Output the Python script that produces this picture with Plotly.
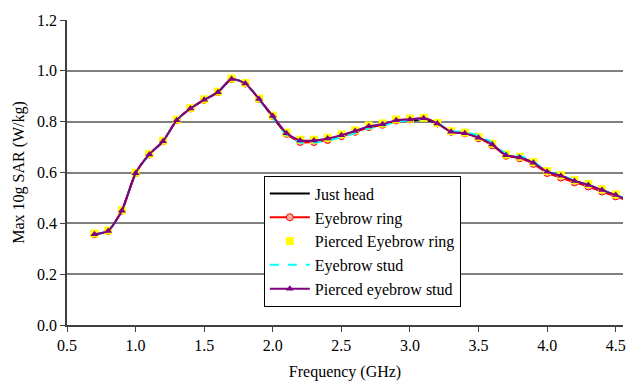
import plotly.graph_objects as go

freq = [0.7, 0.8, 0.9, 1.0, 1.1, 1.2, 1.3, 1.4, 1.5, 1.6, 1.7, 1.8, 1.9, 2.0, 2.1, 2.2, 2.3, 2.4, 2.5, 2.6,
        2.7, 2.8, 2.9, 3.0, 3.1, 3.2, 3.3, 3.4, 3.5, 3.6, 3.7, 3.8, 3.9, 4.0, 4.1, 4.2, 4.3, 4.4, 4.5, 4.6]

just_head = [0.357, 0.370, 0.450, 0.597, 0.671, 0.723, 0.806, 0.852, 0.886, 0.916, 0.968, 0.950, 0.889, 0.818, 0.752,
             0.722, 0.722, 0.730, 0.744, 0.759, 0.778, 0.787, 0.802, 0.804, 0.808, 0.793, 0.760, 0.754, 0.737, 0.710,
             0.668, 0.659, 0.638, 0.603, 0.587, 0.567, 0.551, 0.531, 0.511, 0.490]
eyebrow_ring = [0.357, 0.370, 0.450, 0.597, 0.671, 0.723, 0.806, 0.852, 0.886, 0.916, 0.968, 0.950, 0.889, 0.822, 0.752,
                0.720, 0.720, 0.728, 0.743, 0.760, 0.779, 0.788, 0.805, 0.809, 0.813, 0.793, 0.760, 0.754, 0.735, 0.707,
                0.666, 0.656, 0.634, 0.598, 0.580, 0.561, 0.545, 0.525, 0.506, 0.487]
pierced_ring = [0.360, 0.372, 0.452, 0.599, 0.673, 0.725, 0.808, 0.854, 0.888, 0.918, 0.970, 0.952, 0.891, 0.824, 0.757,
                0.729, 0.729, 0.737, 0.750, 0.766, 0.785, 0.793, 0.809, 0.812, 0.815, 0.795, 0.763, 0.757, 0.740, 0.713,
                0.671, 0.662, 0.641, 0.606, 0.590, 0.570, 0.555, 0.534, 0.514, 0.493]
eyebrow_stud = [0.357, 0.370, 0.450, 0.597, 0.671, 0.723, 0.806, 0.852, 0.886, 0.916, 0.968, 0.950, 0.887, 0.816, 0.748,
                0.718, 0.718, 0.726, 0.739, 0.755, 0.774, 0.784, 0.800, 0.805, 0.810, 0.795, 0.764, 0.759, 0.745, 0.718,
                0.675, 0.666, 0.643, 0.605, 0.589, 0.569, 0.552, 0.532, 0.512, 0.491]
pierced_stud = [0.357, 0.370, 0.450, 0.597, 0.671, 0.723, 0.806, 0.852, 0.886, 0.916, 0.968, 0.950, 0.889, 0.822, 0.754,
                0.726, 0.726, 0.734, 0.747, 0.763, 0.782, 0.790, 0.806, 0.809, 0.813, 0.793, 0.760, 0.754, 0.737, 0.710,
                0.668, 0.659, 0.638, 0.603, 0.587, 0.567, 0.551, 0.531, 0.511, 0.490]

x_ticks = [0.5, 1.0, 1.5, 2.0, 2.5, 3.0, 3.5, 4.0, 4.5]
y_ticks = [0.0, 0.2, 0.4, 0.6, 0.8, 1.0, 1.2]

FONT = "Liberation Serif, Times New Roman, serif"

fig = go.Figure()
fig.add_trace(go.Scatter(x=freq, y=just_head, name="Just head", mode="lines",
                         line=dict(color="black", width=2, shape="spline", smoothing=0.6)))
fig.add_trace(go.Scatter(x=freq, y=eyebrow_ring, name="Eyebrow ring", mode="lines+markers",
                         line=dict(color="#ff0000", width=2, shape="spline", smoothing=0.6),
                         marker=dict(symbol="circle", size=7, color="#ffb0a0", line=dict(color="#ff0000", width=1))))
fig.add_trace(go.Scatter(x=freq, y=pierced_ring, name="Pierced Eyebrow ring", mode="markers",
                         marker=dict(symbol="square", size=8, color="#ffff00", line=dict(width=0))))
fig.add_trace(go.Scatter(x=freq, y=eyebrow_stud, name="Eyebrow stud", mode="lines",
                         line=dict(color="#00ffff", width=2, dash="dash", shape="spline", smoothing=0.6)))
fig.add_trace(go.Scatter(x=freq, y=pierced_stud, name="Pierced eyebrow stud", mode="lines+markers",
                         line=dict(color="#800080", width=2, shape="spline", smoothing=0.6),
                         marker=dict(symbol="triangle-up", size=7, color="#800080")))

fig.update_layout(
    width=626, height=383,
    margin=dict(l=67, r=0, t=20, b=58),
    paper_bgcolor="white", plot_bgcolor="white",
    font=dict(family=FONT, size=16, color="black"),
    showlegend=True,
    legend=dict(x=0.354, y=0.49, xanchor="left", yanchor="top",
                bgcolor="white", bordercolor="black", borderwidth=1,
                font=dict(family=FONT, size=16, color="black"),
                tracegroupgap=0, itemwidth=40),
    xaxis=dict(range=[0.5, 4.553], tickvals=x_ticks, ticktext=[f"{v:.1f}" for v in x_ticks],
               showgrid=False, zeroline=False, showline=True, linecolor="#404040", linewidth=1.5,
               ticks="outside", ticklen=5, tickcolor="#404040", ticklabeloverflow="allow",
               title=dict(text="Frequency (GHz)", font=dict(family=FONT, size=16), standoff=13)),
    yaxis=dict(range=[0, 1.2], tickvals=y_ticks, ticktext=[f"{v:.1f}" for v in y_ticks],
               showgrid=True, gridcolor="#808080", gridwidth=1.5, zeroline=False,
               showline=True, linecolor="#404040", linewidth=1.5,
               ticks="outside", ticklen=5, tickcolor="#404040",
               title=dict(text="Max 10g SAR (W/kg)", font=dict(family=FONT, size=16), standoff=8)),
)

fig.write_html("out.html")
